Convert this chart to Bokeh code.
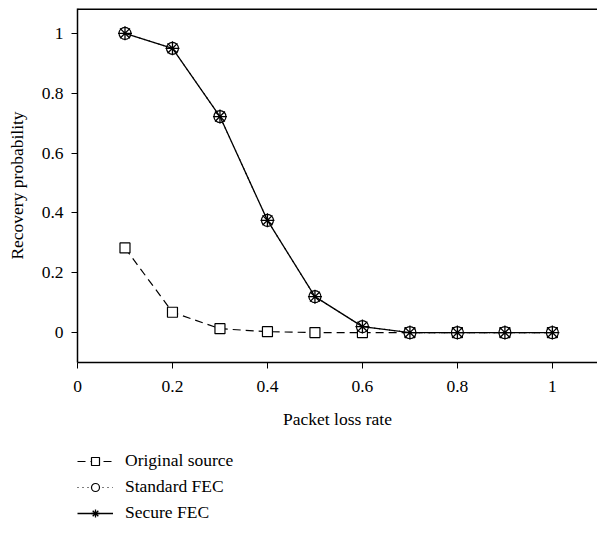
from bokeh.plotting import figure
from bokeh.layouts import column
from bokeh.models import Range1d, FixedTicker, Legend, LegendItem, Span
from bokeh.embed import file_html
from bokeh.resources import INLINE

loss_rate = [0.1, 0.2, 0.3, 0.4, 0.5, 0.6, 0.7, 0.8, 0.9, 1.0]
original_source = [0.283, 0.068, 0.013, 0.003, 0.0, 0.0, 0.0, 0.0, 0.0, 0.0]
standard_fec = [1.0, 0.95, 0.722, 0.375, 0.12, 0.02, 0.0, 0.0, 0.0, 0.0]
secure_fec = [1.0, 0.95, 0.722, 0.375, 0.12, 0.02, 0.0, 0.0, 0.0, 0.0]
tick_values = [0, 0.2, 0.4, 0.6, 0.8, 1]
series_names = ["Original source", "Standard FEC", "Secure FEC"]

FONT = "Liberation Serif"
FS = "17.5px"

STYLES = [
    dict(line=dict(line_color="black", line_width=1.2, line_dash="8 5"),
         mark=dict(marker="square", size=10, fill_color="white", line_color="black", line_width=1.2)),
    dict(line=dict(line_color="black", line_width=1.2, line_dash="1 4"),
         mark=dict(marker="circle", size=12, fill_color="white", line_color="black", line_width=1.2)),
    dict(line=dict(line_color="black", line_width=1.3),
         mark=dict(marker="asterisk", size=14, line_color="black", line_width=1.3)),
]
SERIES = [original_source, standard_fec, secure_fec]

p = figure(width=597, height=440, output_backend="svg", toolbar_location=None,
           x_range=Range1d(0, 1.095), y_range=Range1d(-0.1, 1.083),
           min_border_left=77, min_border_right=0, min_border_top=8, min_border_bottom=78)
p.outline_line_color = None
p.xgrid.visible = False
p.ygrid.visible = False

for ax in (p.xaxis[0], p.yaxis[0]):
    ax.ticker = FixedTicker(ticks=tick_values)
    ax.minor_tick_line_color = None
    ax.major_tick_in = 0
    ax.major_tick_out = 6
    ax.major_tick_line_width = 1
    ax.axis_line_width = 1.5
    ax.axis_line_color = "black"
    ax.major_label_text_font = FONT
    ax.major_label_text_font_size = FS
    ax.major_label_text_color = "black"
    ax.axis_label_text_font = FONT
    ax.axis_label_text_font_size = FS
    ax.axis_label_text_font_style = "normal"
    ax.axis_label_text_color = "black"

p.xaxis[0].axis_label = "Packet loss rate"
p.yaxis[0].axis_label = "Recovery probability"
p.xaxis[0].major_label_standoff = 12
p.yaxis[0].major_label_standoff = 8
p.xaxis[0].axis_label_standoff = 14
p.yaxis[0].axis_label_standoff = 12
p.yaxis[0].major_label_overrides = {0: "0", 1: "1"}
p.xaxis[0].major_label_overrides = {0: "0", 1: "1"}

# top frame border
p.add_layout(Span(location=p.y_range.end, dimension="width",
                  line_color="black", line_width=3))

for ys, st in zip(SERIES, STYLES):
    p.line(loss_rate, ys, **st["line"])
    p.scatter(loss_rate, ys, **st["mark"])

# legend panel (proxy renderers sit outside this panel's visible range)
lg = figure(width=597, height=95, output_backend="svg", toolbar_location=None,
            x_range=Range1d(10, 11), y_range=Range1d(10, 11),
            min_border=0)
lg.axis.visible = False
lg.grid.visible = False
lg.outline_line_color = None
items = []
for name, ys, st in zip(series_names, SERIES, STYLES):
    a = lg.line(loss_rate, ys, **st["line"])
    b = lg.scatter(loss_rate, ys, **st["mark"])
    items.append(LegendItem(label=name, renderers=[a, b]))

legend = Legend(items=items, location=(0, 12), orientation="vertical")
legend.border_line_color = None
legend.background_fill_alpha = 0
legend.label_text_font = FONT
legend.label_text_font_size = FS
legend.label_text_color = "black"
legend.glyph_width = 36
legend.glyph_height = 20
legend.label_height = 20
legend.spacing = 5
legend.label_standoff = 12
legend.padding = 0
legend.margin = 0
lg.add_layout(legend, "center")

layout = column(p, lg, spacing=0)
open("out.html", "w").write(file_html(layout, INLINE))
